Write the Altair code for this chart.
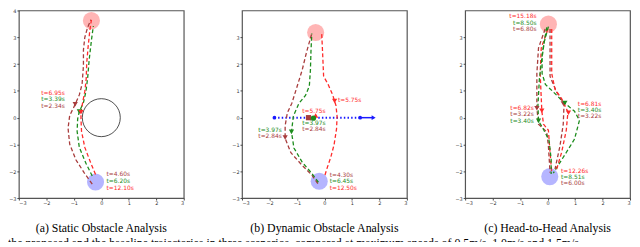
import altair as alt
import pandas as pd

# ---------------- data ----------------
X_TICKS = [-3, -2, -1, 0, 1, 2, 3]
Y_TICKS_A = [-3, -2, -1, 0, 1, 2, 3, 4]
Y_TICKS_BC = [-3, -2, -1, 0, 1, 2, 3]

METHODS = ["red", "green", "dark"]
METHOD_COLORS = ["#ff2a2a", "#1c8c1c", "#a83c3c"]

CAPTIONS = ["(a) Static Obstacle Analysis", "(b) Dynamic Obstacle Analysis",
            "(c) Head-to-Head Analysis"]
FOOT = ("the proposed and the baseline trajectories in three scenarios, compared at "
        "maximum speeds of 0.5m/s, 1.0m/s and 1.5m/s")

# Panel (a): static obstacle
A_START = [-0.21, -2.40]
A_GOAL = [-0.36, 3.62]
A_OBSTACLE = [0.0, 0.0]
A_DARK_X = [-0.33, -0.62, -0.92, -1.15, -1.21, -1.15, -0.95, -0.80, -0.70, -0.65, -0.65, -0.60, -0.50, -0.38]
A_DARK_Y = [-2.48, -2.06, -1.58, -0.99, -0.39, 0.08, 0.50, 0.85, 1.25, 1.93, 2.53, 3.00, 3.36, 3.65]
A_GREEN_X = [-0.33, -0.56, -0.80, -0.88, -0.86, -0.80, -0.65, -0.56, -0.50, -0.44, -0.36, -0.29]
A_GREEN_Y = [-2.18, -1.70, -1.11, -0.51, -0.04, 0.23, 0.56, 0.98, 1.45, 2.17, 2.88, 3.42]
A_RED_X = [-0.21, -0.38, -0.60, -0.72, -0.74, -0.74, -0.68, -0.60, -0.55, -0.53, -0.48, -0.42, -0.36]
A_RED_Y = [-2.12, -1.70, -1.11, -0.51, -0.04, 0.20, 0.56, 0.98, 1.45, 2.05, 2.64, 3.24, 3.65]
A_MARK_X = [-0.95, -0.80, -0.74]
A_MARK_Y = [0.50, 0.23, 0.20]
A_MARK_M = ["dark", "green", "red"]
A_LAB_TEXT = ["t=6.95s", "t=3.39s", "t=2.34s", "t=4.60s", "t=6.20s", "t=12.10s"]
A_LAB_M = ["red", "green", "dark", "dark", "green", "red"]
A_LAB_X = [-1.33, -1.33, -1.33, 0.19, 0.19, 0.19]
A_LAB_Y = [0.91, 0.68, 0.45, -2.11, -2.36, -2.61]
A_LAB_ALIGN = ["right", "right", "right", "left", "left", "left"]

# Panel (b): dynamic obstacle
B_START = [-0.19, -2.37]
B_GOAL = [-0.32, 3.18]
B_DARK_X = [-0.24, -0.46, -0.81, -1.22, -1.43, -1.43, -1.35, -1.19, -0.99, -0.81, -0.64, -0.46]
B_DARK_Y = [-2.46, -2.14, -1.78, -1.31, -0.77, -0.30, 0.18, 0.53, 1.18, 1.78, 2.49, 3.14]
B_GREEN_X = [-0.22, -0.46, -0.81, -1.11, -1.20, -1.13, -0.93, -0.69, -0.55, -0.51, -0.49, -0.46]
B_GREEN_Y = [-2.41, -2.08, -1.66, -1.13, -0.53, 0.06, 0.53, 0.83, 1.18, 1.78, 2.49, 3.14]
B_RED_X = [0.02, 0.11, 0.23, 0.35, 0.44, 0.46, 0.42, 0.30, 0.13, -0.03, -0.07, -0.10]
B_RED_Y = [-2.14, -1.84, -1.48, -1.01, -0.42, 0.05, 0.45, 0.85, 1.25, 1.54, 2.49, 3.14]
B_MARK_X = [-1.43, -1.20, 0.37, -0.58, -0.32, -0.40]
B_MARK_Y = [-0.74, -0.53, 0.62, 0.00, 0.08, -0.02]
B_MARK_M = ["dark", "green", "red", "dark", "red", "green"]
B_MARK_SHAPE = ["triangle-down", "triangle-down", "triangle-down", "square", "triangle-up", "circle"]
B_LAB_TEXT = ["t=5.75s", "t=5.75s", "t=3.97s", "t=2.84s", "t=3.97s", "t=2.84s",
              "t=4.30s", "t=6.45s", "t=12.50s"]
B_LAB_M = ["red", "red", "green", "dark", "green", "dark", "dark", "green", "red"]
B_LAB_X = [0.49, -0.81, -0.81, -0.81, -1.55, -1.55, 0.19, 0.19, 0.19]
B_LAB_Y = [0.65, 0.24, -0.19, -0.42, -0.47, -0.70, -2.15, -2.38, -2.61]
B_LAB_ALIGN = ["left", "left", "left", "left", "right", "right", "left", "left", "left"]
B_OBS_X = [-1.82, 1.30]
B_OBS_Y = [0.0, 0.0]
B_ARROW_X = [1.30, 1.79]
B_ARROW_Y = [0.0, 0.0]

# Panel (c): head-to-head
C_START = [0.08, -2.20]
C_GOAL = [0.03, 3.49]
C_DARK_L_X = [-0.09, -0.33, -0.39, -0.39, -0.33, -0.03, 0.03, 0.09]
C_DARK_L_Y = [3.31, 2.60, 1.65, 0.35, -0.24, -0.53, -1.06, -2.05]
C_RED_L_X = [0.01, -0.23, -0.27, -0.21, -0.15, 0.03, 0.09, 0.15]
C_RED_L_Y = [3.31, 2.60, 1.65, 0.26, -0.24, -0.47, -1.30, -2.05]
C_GREEN_L_X = [-0.03, -0.18, -0.30, -0.35, -0.33, -0.18, 0.05, 0.13, 0.13]
C_GREEN_L_Y = [3.37, 2.48, 1.42, 0.47, -0.12, -0.38, -0.83, -1.54, -2.10]
C_GREEN_R_X = [0.03, -0.12, -0.20, -0.20, -0.08, 0.22, 0.60, 0.98, 1.16, 0.98, 0.68, 0.39, 0.21]
C_GREEN_R_Y = [3.40, 2.84, 2.24, 1.65, 1.24, 0.95, 0.56, 0.24, -0.10, -0.80, -1.30, -1.77, -2.07]
C_DARK_R_X = [0.09, 0.09, 0.33, 0.60, 0.57, 0.45, 0.27]
C_DARK_R_Y = [3.31, 1.54, 0.95, 0.53, -0.24, -1.06, -1.92]
C_RED_R_X = [0.15, 0.15, 0.27, 0.51, 0.74, 0.68, 0.51, 0.33]
C_RED_R_Y = [3.31, 1.65, 1.06, 0.71, 0.21, -0.47, -1.30, -1.92]
C_MARK_X = [-0.39, -0.21, -0.33, 0.57, 0.63, 0.76]
C_MARK_Y = [0.35, 0.26, -0.12, 0.53, 0.55, 0.18]
C_MARK_M = ["dark", "red", "green", "dark", "green", "red"]
C_LAB_TEXT = ["t=15.18s", "t=8.50s", "t=6.80s", "t=6.82s", "t=3.22s", "t=3.40s",
              "t=6.81s", "t=3.40s", "t=3.22s", "t=12.26s", "t=8.51s", "t=6.00s"]
C_LAB_M = ["red", "green", "dark", "red", "dark", "green",
           "red", "green", "dark", "red", "green", "dark"]
C_LAB_X = [-0.40, -0.40, -0.40, -0.50, -0.50, -0.50, 1.10, 1.10, 1.10, 0.49, 0.49, 0.49]
C_LAB_Y = [3.78, 3.55, 3.31, 0.35, 0.12, -0.11, 0.52, 0.29, 0.06, -1.99, -2.22, -2.45]
C_LAB_ALIGN = ["right"] * 6 + ["left"] * 6

# ---------------- helpers ----------------
LABEL_FONT = "DejaVu Sans"


def lines_df(paths):
    rows = []
    for pid, (method, xs, ys) in enumerate(paths):
        for i, (x, y) in enumerate(zip(xs, ys)):
            rows.append({"path": pid, "method": method, "i": i, "x": x, "y": y})
    return pd.DataFrame(rows)


def enc_xy(yticks):
    ax = alt.Axis(values=X_TICKS, labelFontSize=5, tickSize=2, labelPadding=1,
                  domain=False, grid=False, labelColor="#333", tickColor="#444",
                  labelFont=LABEL_FONT)
    ay = alt.Axis(values=yticks, labelFontSize=5, tickSize=2, labelPadding=1,
                  domain=False, grid=False, labelColor="#333", tickColor="#444",
                  labelFont=LABEL_FONT)
    x = alt.X("x:Q", scale=alt.Scale(domain=[-3, 3], nice=False, zero=False), axis=ax, title=None)
    y = alt.Y("y:Q", scale=alt.Scale(domain=[-3, 4], nice=False, zero=False), axis=ay, title=None)
    return x, y


COLOR = alt.Color("method:N", scale=alt.Scale(domain=METHODS, range=METHOD_COLORS), legend=None)


def panel(paths, mark_x, mark_y, mark_m, mark_shape, lab_text, lab_m, lab_x, lab_y, lab_align,
          start, goal, yticks, caption, extra=None):
    x, y = enc_xy(yticks)
    circ = pd.DataFrame({"x": [start[0], goal[0]], "y": [start[1], goal[1]],
                         "fill": ["#3c3cff", "#ff3c3c"]})
    layers = [
        alt.Chart(circ).mark_point(filled=True, size=300, opacity=0.38, shape="circle",
                                   strokeWidth=0)
        .encode(x=x, y=y, color=alt.Color("fill:N", scale=None)),
    ]
    if extra is not None:
        layers += extra(x, y)
    layers.append(
        alt.Chart(lines_df(paths)).mark_line(strokeDash=[4, 2.5], strokeWidth=1.3)
        .encode(x=x, y=y, color=COLOR, detail="path:N", order="i:Q"))
    mk = pd.DataFrame({"x": mark_x, "y": mark_y, "method": mark_m, "shape": mark_shape})
    layers.append(
        alt.Chart(mk).mark_point(filled=True, size=28, opacity=1)
        .encode(x=x, y=y, color=COLOR, shape=alt.Shape("shape:N", scale=None)))
    lab = pd.DataFrame({"x": lab_x, "y": lab_y, "method": lab_m, "text": lab_text,
                        "align": lab_align})
    for al in ["left", "right"]:
        sub = lab[lab["align"] == al]
        if len(sub):
            layers.append(
                alt.Chart(sub).mark_text(align=al, baseline="middle", fontSize=6,
                                         font=LABEL_FONT)
                .encode(x=x, y=y, text="text:N", color=COLOR))
    return alt.layer(*layers).properties(
        width=167, height=190,
        title=alt.TitleParams(caption, orient="bottom", anchor="middle", frame="group",
                              font="Liberation Serif", fontSize=12, fontWeight="normal",
                              color="black", offset=17))


def extra_a(x, y):
    obs = pd.DataFrame({"x": [A_OBSTACLE[0]], "y": [A_OBSTACLE[1]]})
    return [alt.Chart(obs).mark_point(shape="circle", size=1480, filled=False,
                                      color="#222", strokeWidth=0.8, opacity=1)
            .encode(x=x, y=y)]


def extra_b(x, y):
    dots = pd.DataFrame({"x": B_OBS_X, "y": B_OBS_Y})
    arrow = pd.DataFrame({"x": B_ARROW_X, "y": B_ARROW_Y})
    return [
        alt.Chart(dots).mark_line(color="#1a1aff", strokeWidth=2, strokeDash=[1.5, 2.2])
        .encode(x=x, y=y),
        alt.Chart(arrow).mark_line(color="#1a1aff", strokeWidth=1.5).encode(x=x, y=y),
        alt.Chart(dots).mark_point(color="#1a1aff", filled=True, size=14, opacity=1)
        .encode(x=x, y=y),
        alt.Chart(arrow.iloc[[1]]).mark_point(color="#1a1aff", filled=True, size=22,
                                             shape="triangle-right", opacity=1)
        .encode(x=x, y=y),
    ]


pa = panel([("dark", A_DARK_X, A_DARK_Y), ("green", A_GREEN_X, A_GREEN_Y),
            ("red", A_RED_X, A_RED_Y)],
           A_MARK_X, A_MARK_Y, A_MARK_M, ["triangle-down"] * 3,
           A_LAB_TEXT, A_LAB_M, A_LAB_X, A_LAB_Y, A_LAB_ALIGN,
           A_START, A_GOAL, Y_TICKS_A, CAPTIONS[0], extra_a)

pb = panel([("dark", B_DARK_X, B_DARK_Y), ("green", B_GREEN_X, B_GREEN_Y),
            ("red", B_RED_X, B_RED_Y)],
           B_MARK_X, B_MARK_Y, B_MARK_M, B_MARK_SHAPE,
           B_LAB_TEXT, B_LAB_M, B_LAB_X, B_LAB_Y, B_LAB_ALIGN,
           B_START, B_GOAL, Y_TICKS_BC, CAPTIONS[1], extra_b)

pc = panel([("dark", C_DARK_L_X, C_DARK_L_Y), ("red", C_RED_L_X, C_RED_L_Y),
            ("green", C_GREEN_L_X, C_GREEN_L_Y), ("green", C_GREEN_R_X, C_GREEN_R_Y),
            ("dark", C_DARK_R_X, C_DARK_R_Y), ("red", C_RED_R_X, C_RED_R_Y)],
           C_MARK_X, C_MARK_Y, C_MARK_M, ["triangle-down"] * 6,
           C_LAB_TEXT, C_LAB_M, C_LAB_X, C_LAB_Y, C_LAB_ALIGN,
           C_START, C_GOAL, Y_TICKS_BC, CAPTIONS[2])

chart = alt.hconcat(pa, pb, pc, spacing=59, bounds="flush").properties(
    title=alt.TitleParams(FOOT, orient="bottom", anchor="start", font="Liberation Serif",
                          fontSize=12, fontWeight="normal", color="black", offset=4),
    padding={"left": 0, "top": -2, "right": 0, "bottom": -9},
).configure_view(stroke="#555", strokeWidth=1.2)

chart.save("out.html", embed_options={"renderer": "svg", "actions": False})
